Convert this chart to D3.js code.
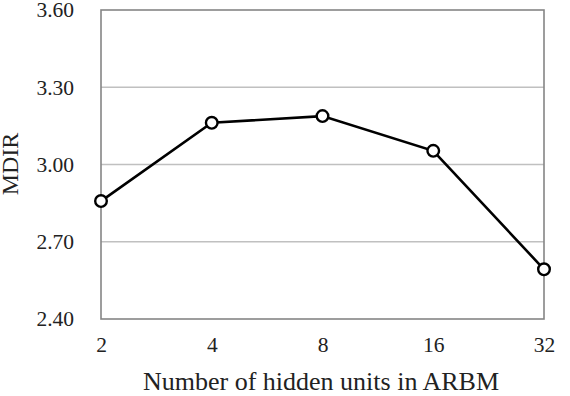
<!DOCTYPE html>
<meta charset="utf-8">
<style>
body { margin: 0; background: #fff; }
text { font-family: "Liberation Serif", "Times New Roman", serif; fill: #222; }
</style>
<body>
<div id="chart"></div>
<script src="https://d3js.org/d3.v7.min.js"></script>
<script>
var units = ['2', '4', '8', '16', '32']
var mdir = [2.858, 3.162, 3.188, 3.053, 2.593]
var yTicks = [2.40, 2.70, 3.00, 3.30, 3.60]

var margin = { top: 10, right: 26, bottom: 77, left: 101 }
var width = 570 - margin.left - margin.right
var height = 396 - margin.top - margin.bottom

var svg = d3.select('#chart')
    .append('svg')
    .attr('width', 570)
    .attr('height', 396)
    .append('g')
    .attr('transform', 'translate(' + margin.left + ',' + margin.top + ')')

var x = d3.scalePoint()
    .domain(units)
    .range([0, width])
var y = d3.scaleLinear()
    .domain([2.4, 3.6])
    .range([height, 0])

// gridlines
svg.append('g')
    .selectAll('line')
    .data(yTicks.slice(1, -1))
    .enter()
    .append('line')
    .attr('x1', 0)
    .attr('x2', width)
    .attr('y1', function (d) { return y(d) })
    .attr('y2', function (d) { return y(d) })
    .style('stroke', '#c0c0c0')
    .style('stroke-width', 1.3)

svg.append('rect')
    .attr('width', width)
    .attr('height', height)
    .style('fill', 'none')
    .style('stroke', '#858585')
    .style('stroke-width', 1.6)

var yAxis = d3.axisLeft(y)
    .tickValues(yTicks)
    .tickFormat(d3.format('.2f'))
    .tickSize(0)
    .tickPadding(27)
var gy = svg.append('g').call(yAxis)
gy.select('.domain').remove()
gy.selectAll('text').style('font-size', '21.5px')

var xAxis = d3.axisBottom(x)
    .tickSize(0)
    .tickPadding(18)
var gx = svg.append('g')
    .attr('transform', 'translate(0,' + height + ')')
    .call(xAxis)
gx.select('.domain').remove()
gx.selectAll('text').style('font-size', '21.5px')

svg.append('text')
    .attr('x', 220)
    .attr('y', height + 71)
    .style('text-anchor', 'middle')
    .style('font-size', '26px')
    .text('Number of hidden units in ARBM')

svg.append('text')
    .attr('transform', 'rotate(-90)')
    .attr('x', -154)
    .attr('y', -83)
    .style('text-anchor', 'middle')
    .style('font-size', '24px')
    .text('MDIR')

var line = d3.line()
    .x(function (d, i) { return x(units[i]) })
    .y(function (d) { return y(d) })

svg.append('path')
    .datum(mdir)
    .attr('d', line)
    .style('fill', 'none')
    .style('stroke', '#000')
    .style('stroke-width', 2.6)

svg.selectAll('circle')
    .data(mdir)
    .enter()
    .append('circle')
    .attr('cx', function (d, i) { return x(units[i]) })
    .attr('cy', function (d) { return y(d) })
    .attr('r', 5.8)
    .style('fill', '#fff')
    .style('stroke', '#000')
    .style('stroke-width', 2.4)
</script>
</body>
